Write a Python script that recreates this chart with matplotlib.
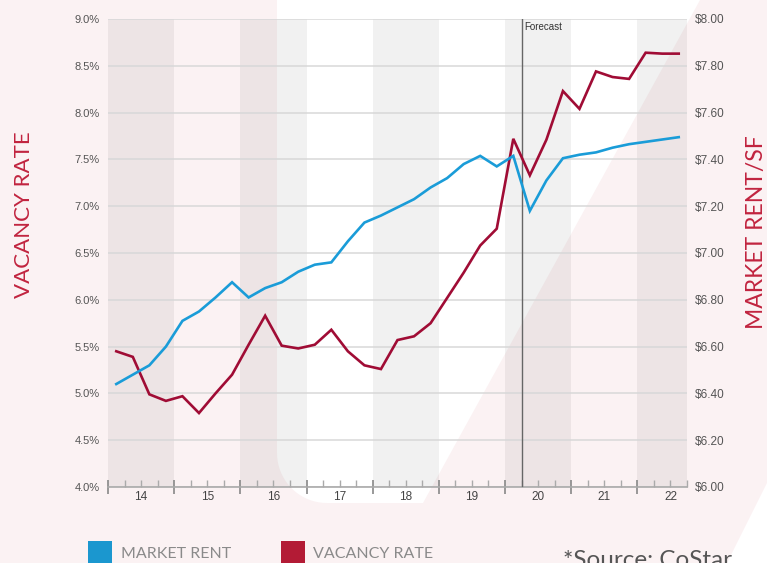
import numpy as np
import matplotlib
matplotlib.use("Agg")
import matplotlib.pyplot as plt
from matplotlib.patches import Polygon, Rectangle

# ---------------- data ----------------
quarters = ["14Q1", "14Q2", "14Q3", "14Q4", "15Q1", "15Q2", "15Q3", "15Q4",
            "16Q1", "16Q2", "16Q3", "16Q4", "17Q1", "17Q2", "17Q3", "17Q4",
            "18Q1", "18Q2", "18Q3", "18Q4", "19Q1", "19Q2", "19Q3", "19Q4",
            "20Q1", "20Q2", "20Q3", "20Q4", "21Q1", "21Q2", "21Q3", "21Q4",
            "22Q1", "22Q2", "22Q3"]
market_rent = [6.44, 6.48, 6.52, 6.60, 6.71, 6.75, 6.81, 6.875, 6.81, 6.85,
               6.875, 6.92, 6.95, 6.96, 7.05, 7.13, 7.16, 7.195, 7.23, 7.28,
               7.32, 7.38, 7.415, 7.37, 7.415, 7.18, 7.31, 7.405, 7.42, 7.43,
               7.45, 7.465, 7.475, 7.485, 7.495]
vacancy_rate = [5.45, 5.39, 4.99, 4.92, 4.97, 4.79, 5.00, 5.20, 5.52, 5.83,
                5.51, 5.48, 5.52, 5.68, 5.45, 5.30, 5.26, 5.57, 5.61, 5.75,
                6.02, 6.29, 6.58, 6.76, 7.72, 7.33, 7.71, 8.23, 8.04, 8.44,
                8.38, 8.36, 8.64, 8.63, 8.63]
years = ["14", "15", "16", "17", "18", "19", "20", "21", "22"]
vac_ticks = [4.0, 4.5, 5.0, 5.5, 6.0, 6.5, 7.0, 7.5, 8.0, 8.5, 9.0]
rent_ticks = [6.0, 6.2, 6.4, 6.6, 6.8, 7.0, 7.2, 7.4, 7.6, 7.8, 8.0]
forecast_after = "20Q1"

# ---------------- style ----------------
W, H = 767, 563
PINK = "#fbf2f3"
BLUE = "#1a9cd8"
RED = "#a00c35"
LEG_BLUE = "#1b97cf"
LEG_RED = "#b31b35"
LABEL_RED = "#c1243f"
TICK_GRAY = "#555555"
TFONT = ["Liberation Sans", "DejaVu Sans"]
LFONT = ["Lato", "DejaVu Sans"]

fig = plt.figure(figsize=(W / 100, H / 100), dpi=100)
fig.patch.set_facecolor("white")

# decorative background (pixel coordinates)
bg = fig.add_axes([0, 0, 1, 1], zorder=-5)
bg.set_xlim(0, W)
bg.set_ylim(H, 0)
bg.axis("off")
bg.add_patch(Rectangle((0, 0), W, H, color=PINK, lw=0))
r = 50
cx, cy = 277 + r, 503 - r
arc = [(cx + r * np.cos(a), cy + r * np.sin(a)) for a in np.linspace(np.pi / 2, np.pi, 20)]
white_poly = [(277, 0), (700, 0), (423, 503)] + arc + [(277, 0)]
bg.add_patch(Polygon(white_poly, closed=True, color="white", lw=0))
bg.add_patch(Polygon([(767, 483), (767, 563), (727, 563)], closed=True, color="white", lw=0))

# main axes
ax = fig.add_axes([108 / W, (H - 487) / H, 579 / W, 468 / H])
ax.patch.set_alpha(0)
x = np.arange(len(quarters))
n = len(quarters)
ax.set_xlim(-0.5, n - 0.5)
ax.set_ylim(vac_ticks[0], vac_ticks[-1])

# alternating year bands
for i, yr in enumerate(years):
    start = -0.5 + 4 * i
    end = min(start + 4, n - 0.5)
    if i % 2 == 0:
        ax.axvspan(start, end, color="black", alpha=0.055, lw=0, zorder=0)

# grid
for v in vac_ticks:
    ax.axhline(v, color="#d8d8d8", lw=1.1, zorder=1)

# forecast line
fx = quarters.index(forecast_after) + 0.5
ax.axvline(fx, color="#666666", lw=1.0, zorder=4)
ax.text(fx + 0.15, 8.915, "Forecast", fontsize=7, color="#333333",
        family=TFONT, va="center", ha="left")

ax.plot(x, vacancy_rate, color=RED, lw=1.9, zorder=5, solid_joinstyle="miter")

for s in ["top", "left", "right"]:
    ax.spines[s].set_visible(False)
ax.spines["bottom"].set_color("#aaaaaa")
ax.spines["bottom"].set_linewidth(1.2)

year_bounds = [-0.5 + 4 * i for i in range(len(years))]
ax.set_xticks(year_bounds)
ax.set_xticklabels([])
ax.set_xticks(np.arange(-0.5, n, 1.0), minor=True)
ax.tick_params(axis="x", which="major", direction="inout", length=10, width=1.2, color="#888888")
ax.tick_params(axis="x", which="minor", direction="in", length=5, width=1.0, color="#aaaaaa")
trans = ax.get_xaxis_transform()
for i, yr in enumerate(years):
    ax.text(-0.5 + 4 * i + 2, -0.022, yr, transform=trans, ha="center", va="center",
            fontsize=8.5, color="#444444", family=TFONT)

ax.set_yticks(vac_ticks)
ax.set_yticklabels([f"{v:.1f}%" for v in vac_ticks], family=TFONT)
ax.tick_params(axis="y", length=0, pad=6, labelsize=8, labelcolor=TICK_GRAY)

# right axis
ax2 = ax.twinx()
ax2.set_ylim(rent_ticks[0], rent_ticks[-1])
ax2.plot(x, market_rent, color=BLUE, lw=1.9, zorder=5, solid_joinstyle="miter")
for s in ["top", "left", "right", "bottom"]:
    ax2.spines[s].set_visible(False)
ax2.set_yticks(rent_ticks)
ax2.set_yticklabels([f"${v:.2f}" for v in rent_ticks], family=TFONT)
ax2.tick_params(axis="y", length=0, pad=6, labelsize=8.5, labelcolor=TICK_GRAY)

# axis titles
fig.text(24 / W, 1 - 215 / H, "VACANCY RATE", rotation=90, ha="center", va="center",
         fontsize=16, color=LABEL_RED, family=LFONT, fontweight="normal")
fig.text(757 / W, 1 - 232 / H, "MARKET RENT/SF", rotation=90, ha="center", va="center",
         fontsize=16.5, color=LABEL_RED, family=LFONT, fontweight="normal")

# legend
bg.add_patch(Rectangle((88, 541), 24, 30, color=LEG_BLUE, lw=0))
bg.add_patch(Rectangle((281, 541), 24, 30, color=LEG_RED, lw=0))
bg.text(121, 558.5, "MARKET RENT", fontsize=11.5, color="#8a8a8a", family=LFONT,
        fontweight="normal", va="baseline", ha="left")
bg.text(313, 558.5, "VACANCY RATE", fontsize=11.5, color="#8a8a8a", family=LFONT,
        fontweight="normal", va="baseline", ha="left")
bg.text(563, 567, "*Source: CoStar", fontsize=17.5, color="#555555", family=LFONT,
        fontweight="normal", va="baseline", ha="left")

fig.savefig("out.png", dpi=100, facecolor=fig.get_facecolor())
